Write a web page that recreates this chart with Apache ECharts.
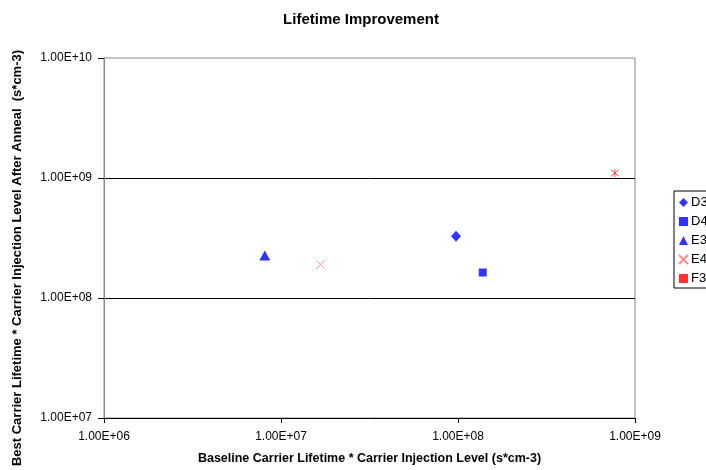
<!DOCTYPE html>
<html>
<head>
<meta charset="utf-8">
<style>
html, body {
  margin: 0;
  padding: 0;
  background: #FFF;
}
#chart {
  width: 706px;
  height: 470px;
}
</style>
<script src="https://cdn.jsdelivr.net/npm/echarts@6/dist/echarts.min.js"></script>
</head>
<body>
<div id="chart"></div>
<script>
// values, [baseline, best after anneal]
const d3 = [[9.75e7, 3.27e8]]
const d4 = [[1.38e8, 1.63e8]]
const e3 = [[8.1e6, 2.26e8]]
const e4 = [[1.67e7, 1.9e8]]
const f3 = [[7.7e8, 1.1e9]]
const seriesNames = ['D3', 'D4', 'E3', 'E4', 'F3']

const FONT = '"Liberation Sans", Arial, sans-serif'
const crossPath = 'path://M0,0L10,10M10,0L0,10'
const starPath = 'path://M0,0L10,10M10,0L0,10M5,-1L5,11'

function sci (value) {
  const exp = Math.round(Math.log10(value))
  return '1.00E+' + (exp < 10 ? '0' : '') + exp
}

const chart = echarts.init(document.getElementById('chart'))

const option = {
  animation: false,
  backgroundColor: '#FFF',
  textStyle: { fontFamily: FONT },
  title: {
    text: 'Lifetime Improvement',
    left: 356,
    textAlign: 'center',
    top: 7,
    textStyle: { fontFamily: FONT, fontSize: 15, fontWeight: 'bold', color: '#000' }
  },
  grid: {
    left: 104,
    right: 71,
    top: 58,
    bottom: 48,
    show: true,
    borderColor: '#888',
    borderWidth: 1,
    containLabel: false
  },
  legend: {
    orient: 'vertical',
    left: 674,
    top: 191,
    backgroundColor: '#FFF',
    borderColor: '#000',
    borderWidth: 1,
    padding: [5, 12, 3, 4],
    itemWidth: 9,
    itemHeight: 9,
    itemGap: 6,
    textStyle: { fontFamily: FONT, fontSize: 13, color: '#000', padding: [0, 0, 0, -2] },
    data: [
      { name: 'D3', icon: 'diamond' },
      { name: 'D4', icon: 'rect' },
      { name: 'E3', icon: 'triangle' },
      { name: 'E4', icon: crossPath },
      { name: 'F3', icon: 'rect', itemStyle: { color: '#FF0000', borderWidth: 0 } }
    ]
  },
  xAxis: {
    type: 'log',
    min: 1e6,
    max: 1e9,
    logBase: 10,
    name: 'Baseline Carrier Lifetime * Carrier Injection Level (s*cm-3)',
    nameLocation: 'middle',
    nameGap: 34,
    nameTextStyle: { fontFamily: FONT, fontSize: 12.5, fontWeight: 'bold', color: '#000', verticalAlign: 'top' },
    axisLine: { lineStyle: { color: '#000', width: 1 } },
    axisTick: { show: true, inside: false, length: 5, lineStyle: { color: '#000' } },
    minorTick: { show: false },
    axisLabel: {
      formatter: sci,
      margin: 13,
      fontFamily: FONT,
      fontSize: 12,
      color: '#000'
    },
    splitLine: { show: false }
  },
  yAxis: {
    type: 'log',
    min: 1e7,
    max: 1e10,
    logBase: 10,
    name: 'Best Carrier Lifetime * Carrier Injection Level After Anneal  (s*cm-3)',
    nameLocation: 'middle',
    nameGap: 80,
    nameTextStyle: {
      fontFamily: FONT, fontSize: 13, fontWeight: 'bold', color: '#000',
      padding: [0, 40, 0, 0]
    },
    axisLine: { show: true, lineStyle: { color: '#888', width: 1 } },
    axisTick: { show: true, inside: false, length: 6, lineStyle: { color: '#000' } },
    axisLabel: {
      formatter: sci,
      margin: 12,
      fontFamily: FONT,
      fontSize: 12,
      color: '#000'
    },
    splitLine: {
      show: true,
      showMinLine: false,
      showMaxLine: false,
      lineStyle: { color: '#000', width: 1 }
    }
  },
  series: [
    {
      name: seriesNames[0],
      type: 'scatter',
      symbol: 'diamond',
      symbolSize: [10, 11],
      itemStyle: { color: '#0000FF' },
      data: d3
    },
    {
      name: seriesNames[1],
      type: 'scatter',
      symbol: 'rect',
      symbolSize: 8,
      itemStyle: { color: '#0000FF' },
      data: d4
    },
    {
      name: seriesNames[2],
      type: 'scatter',
      symbol: 'triangle',
      symbolSize: [11, 10],
      itemStyle: { color: '#0000FF' },
      data: e3
    },
    {
      name: seriesNames[3],
      type: 'scatter',
      symbol: crossPath,
      symbolSize: 8,
      itemStyle: { color: 'rgba(0,0,0,0)', borderColor: '#FF7070', borderWidth: 1 },
      data: e4
    },
    {
      name: seriesNames[4],
      type: 'scatter',
      symbol: starPath,
      symbolSize: 8,
      itemStyle: { color: 'rgba(0,0,0,0)', borderColor: '#FF2020', borderWidth: 1 },
      data: f3
    }
  ]
}

chart.setOption(option)
</script>
</body>
</html>
